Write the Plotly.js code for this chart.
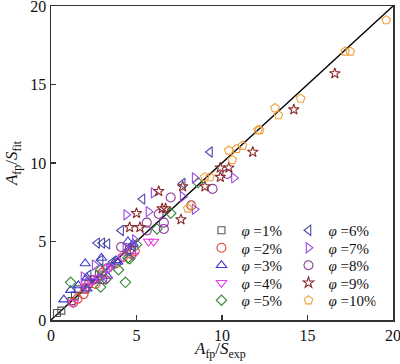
<!DOCTYPE html>
<html>
<head>
<meta charset="utf-8">
<script src="https://cdn.plot.ly/plotly-3.0.1.min.js"></script>
<style>html,body{margin:0;padding:0;background:#fff;}#chart{width:400px;height:364px;}</style>
</head>
<body>
<div id="chart"></div>
<script>
// Series names
const seriesNames = ["φ1","φ2","φ3","φ4","φ5","φ6","φ7","φ8","φ9","φ10"];
const legendLabels = ["1%","2%","3%","4%","5%","6%","7%","8%","9%","10%"];
const tickValues = [0,5,10,15,20];
const tickLabels = ["0","5","10","15","20"];

// Data: x = A_fp/S_exp, y = A_fp/S_fit
const p1x = [0.35,0.6,1.2,1.4,1.6,2.0,2.2,2.5,2.8];
const p1y = [0.45,0.6,1.2,1.55,1.95,1.95,2.3,2.6,2.9];

const p2x = [1.3,1.55,1.9,2.0,2.4,2.6,3.0,3.3,3.8,4.2,4.7,4.9];
const p2y = [1.1,1.35,1.65,2.0,2.5,2.3,3.0,3.3,3.6,4.0,4.2,4.4];

const p3x = [0.75,1.15,1.6,2.0,2.1,2.1,2.6,2.8,2.95,3.3,3.8,3.9,4.5,4.8];
const p3y = [1.3,1.9,2.2,3.6,2.7,2.0,2.5,2.7,3.95,2.8,3.8,3.7,5.0,4.85];

const p4x = [1.3,2.0,2.4,2.8,3.0,3.2,3.5,3.3,4.2,4.8,5.7,6.0];
const p4y = [1.1,2.2,2.5,2.7,2.9,3.3,3.4,2.6,4.0,4.1,5.0,5.0];

const p5x = [1.15,2.9,3.95,4.35,2.9,3.2,4.5,4.6,5.0,6.2,7.0,8.6];
const p5y = [2.4,3.2,3.2,2.4,2.1,2.6,3.95,3.9,4.8,5.8,6.8,8.75];

const p6x = [9.3,7.7,5.35,4.1,2.7,3.0,3.3,2.9,3.6,4.5,2.2,4.8];
const p6y = [10.7,8.7,7.7,5.7,4.9,4.9,4.85,3.8,3.7,4.4,2.85,4.7];

const p7x = [10.7,8.4,7.7,6.0,5.7,4.4,8.4,4.9,4.35,2.55,1.9,3.4];
const p7y = [9.05,9.05,7.85,8.1,6.9,6.7,7.05,5.1,4.6,3.5,2.75,3.3];

const p8x = [10.3,9.45,7.0,8.2,5.6,6.3,6.6,6.6,5.6,4.1,4.6,3.0];
const p8y = [9.3,8.35,7.8,7.3,6.2,6.75,6.2,5.8,5.7,4.65,4.5,2.6];

const p9x = [16.6,14.2,11.8,9.9,10.4,9.9,7.7,9.0,6.3,5.0,6.5,6.7,7.6,4.6,5.2];
const p9y = [15.7,13.4,10.7,9.7,9.7,9.1,8.5,8.5,8.2,6.8,7.1,7.1,6.4,5.9,5.9];

const p10x = [19.6,17.2,17.5,14.6,13.1,13.3,12.1,12.2,11.2,10.85,10.4,10.6,9.0,9.3,8.0,8.2];
const p10y = [19.1,17.1,17.1,14.1,13.5,13.05,12.1,12.1,11.1,10.9,10.8,10.2,9.1,9.1,7.1,7.3];

const lineX = [0,20];
const lineY = [0,20];

const xs = [p1x,p2x,p3x,p4x,p5x,p6x,p7x,p8x,p9x,p10x];
const ys = [p1y,p2y,p3y,p4y,p5y,p6y,p7y,p8y,p9y,p10y];
const colors = ['#555555','#e8443a','#3a3ad0','#e040e8','#3a8a3a','#4a4aa8','#9a4ae0','#8a3a9a','#8b2a2a','#f0a040'];
const symbols = ['square-open','circle-open','triangle-up-open','triangle-down-open','diamond-open','triangle-left-open','triangle-right-open','circle-open','star-open','pentagon-open'];
const sizes = [7,9,9,9,8,9,9,9,8,9];

const legendIds = ['legend','legend2','legend3','legend4','legend5'];

const traces = [{
  x: lineX, y: lineY, mode: 'lines', line: {color:'#000', width:1.3}, showlegend:false, hoverinfo:'skip'
}];
for (let i = 0; i < 10; i++) {
  traces.push({
    x: xs[i], y: ys[i], mode: 'markers', type: 'scatter',
    name: '<i>φ</i> =' + legendLabels[i],
    legend: legendIds[i % 5],
    marker: {symbol: symbols[i], color: colors[i], size: sizes[i], line: {width: 1.1, color: colors[i]}}
  });
}

const axisCommon = {
  range: [0,20], tickmode: 'array', tickvals: tickValues, ticktext: tickLabels,
  ticklabeloverflow: 'allow',
  showgrid: false, zeroline: false,
  showline: true, mirror: true, linecolor: '#333', linewidth: 1.5,
  ticks: 'inside', ticklen: 5, tickwidth: 1.2, tickcolor: '#333',
  tickfont: {family: 'Liberation Serif', size: 16, color: '#111'}
};

const rowCenters = [230.5, 248, 265.5, 283, 300.5];

const layout = {
  width: 400, height: 364,
  margin: {l: 51, r: 7, t: 6, b: 44},
  paper_bgcolor: '#fff', plot_bgcolor: '#fff',
  font: {family: 'Liberation Serif', color: '#111'},
  xaxis: Object.assign({}, axisCommon, {title: {text: ''}}),
  yaxis: Object.assign({}, axisCommon, {
    title: {text: '<i>A</i><sub>fp</sub>/<i>S</i><sub>fit</sub>', font: {family:'Liberation Serif', size: 17, color:'#111'}, standoff: 8}
  }),
  annotations: [{
    xref: 'paper', yref: 'paper', x: 0.494, y: -0.094, xanchor: 'center', yanchor: 'middle',
    text: '<i>A</i><sub>fp</sub>/<i>S</i><sub>exp</sub>', showarrow: false,
    font: {family:'Liberation Serif', size: 17, color:'#111'}
  }],
  showlegend: true
};
legendIds.forEach((id, k) => {
  layout[id] = {
    font: {family: 'Liberation Serif', size: 15, color: '#111'},
    bgcolor: 'rgba(0,0,0,0)', borderwidth: 0, itemwidth: 30, itemsizing: 'trace',
    orientation: 'h', entrywidth: 42, entrywidthmode: 'pixels',
    xanchor: 'left', yanchor: 'middle',
    x: 0.44, y: (320 - rowCenters[k]) / 314
  };
});

Plotly.newPlot('chart', traces, layout, {displayModeBar: false, staticPlot: true});
</script>
</body>
</html>
